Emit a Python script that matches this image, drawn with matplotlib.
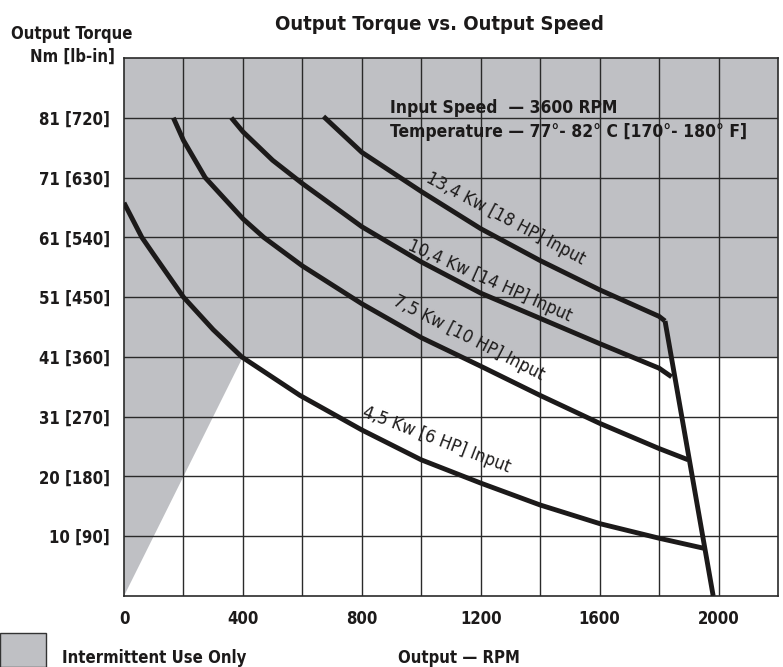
import matplotlib
matplotlib.use('Agg')
import matplotlib.pyplot as plt
from matplotlib import font_manager
from matplotlib.patches import Rectangle

# pick a narrow sans if one is installed
fonts = font_manager.fontManager.ttflist
names = {f.name for f in fonts}
if 'Liberation Sans Narrow' in names:
    plt.rcParams['font.family'] = ['Liberation Sans Narrow', 'DejaVu Sans']
elif any(f.name == 'DejaVu Sans' and f.stretch == 'condensed' for f in fonts):
    plt.rcParams['font.family'] = ['DejaVu Sans']
    plt.rcParams['font.stretch'] = 'condensed'
else:
    plt.rcParams['font.family'] = ['Liberation Sans', 'DejaVu Sans']

# torque in lb-in, speed in RPM
rpm_45 = [0, 60, 100, 200, 300, 396, 592, 800, 1000, 1200, 1400, 1600, 1800, 1949]
tq_45 = [592, 540, 514, 450, 401, 360, 302, 250, 205, 170, 137, 109, 87, 72]

rpm_75 = [166, 200, 273, 400, 470, 600, 800, 1000, 1200, 1400, 1600, 1800, 1898]
tq_75 = [720, 686, 630, 568, 540, 497, 440, 389, 346, 302, 260, 222, 205]

rpm_104 = [361, 400, 500, 600, 800, 1000, 1200, 1400, 1600, 1800, 1842]
tq_104 = [720, 699, 656, 621, 556, 503, 456, 418, 380, 343, 330]

rpm_134 = [671, 800, 1000, 1200, 1400, 1600, 1800, 1820]
tq_134 = [722, 668, 609, 553, 505, 461, 421, 414]

limit_rpm = [1820, 1982]
limit_tq = [414, 0]

# intermittent use zone
inter_level = 360
inter_rpm = [0, 400, 0]
inter_tq = [0, 360, 360]

tick_pos = [90, 180, 270, 360, 450, 540, 630, 720]
tick_lbl = ['10 [90]', '20 [180]', '31 [270]', '41 [360]', '51 [450]',
            '61 [540]', '71 [630]', '81 [720]']
x_ticks = [0, 400, 800, 1200, 1600, 2000]

curve_labels = ['4,5 Kw [6 HP] Input', '7,5 Kw [10 HP] Input',
                '10,4 Kw [14 HP] Input', '13,4 Kw [18 HP] Input']
label_rpm = [1050, 1160, 1232, 1283]
label_tq = [236, 388, 475, 568]
label_rot = [-21, -27, -24, -28]

gray = '#bfc0c4'
ink = '#1c1a1a'

fig = plt.figure(figsize=(7.83, 6.67), dpi=100)
ax = fig.add_axes([124 / 783, 1 - 596 / 667, 654 / 783, 538 / 667])

ax.axhspan(inter_level, 810, color=gray, lw=0, zorder=0)
ax.fill(inter_rpm, inter_tq, color=gray, lw=0, zorder=0)

ax.set_xlim(0, 2200)
ax.set_ylim(0, 810)
for gx in range(200, 2200, 200):
    ax.axvline(gx, color='#2a2a2a', lw=1.0, zorder=1)
for gy in range(90, 810, 90):
    ax.axhline(gy, color='#2a2a2a', lw=1.0, zorder=1)
ax.set_xticks(x_ticks)
ax.set_yticks(tick_pos)
ax.set_yticklabels(tick_lbl)
ax.tick_params(length=0, labelsize=12, colors=ink)
ax.tick_params(axis='y', pad=10)
ax.tick_params(axis='x', pad=10)
for t in ax.get_xticklabels() + ax.get_yticklabels():
    t.set_fontweight('bold')
for s in ax.spines.values():
    s.set_color('#2a2a2a')
    s.set_linewidth(1.2)

lw = 3.5
for r, t in [(rpm_45, tq_45), (rpm_75, tq_75), (rpm_104, tq_104), (rpm_134, tq_134)]:
    ax.plot(r, t, color=ink, lw=lw, solid_capstyle='butt', solid_joinstyle='round', zorder=3)
ax.plot(limit_rpm, limit_tq, color=ink, lw=lw, solid_capstyle='butt', zorder=3)

for lab, x, y, rot in zip(curve_labels, label_rpm, label_tq, label_rot):
    ax.text(x, y, lab, rotation=rot, rotation_mode='anchor', ha='center', va='center',
            fontsize=13, color=ink, zorder=4)

ax.text(895, 727, 'Input Speed  \u2014 3600 RPM', fontsize=12.5, fontweight='bold',
        color=ink, ha='left', va='baseline', zorder=4)
ax.text(895, 691, 'Temperature \u2014 77\u00b0- 82\u00b0 C [170\u00b0- 180\u00b0 F]', fontsize=12.5,
        fontweight='bold', color=ink, ha='left', va='baseline', zorder=4)

fig.text(439 / 783, 1 - 30 / 667, 'Output Torque vs. Output Speed', fontsize=14.5,
         fontweight='bold', color=ink, ha='center', va='baseline')
fig.text(72 / 783, 1 - 62 / 667, 'Output Torque\nNm [lb-in]', fontsize=12,
         fontweight='bold', color=ink, ha='center', va='baseline', multialignment='center',
         linespacing=1.35)

fig.patches.append(Rectangle((0, 0), 46 / 783, 34 / 667, transform=fig.transFigure,
                             facecolor=gray, edgecolor='#333333', lw=1.0))
fig.text(62 / 783, 1 - 663 / 667, 'Intermittent Use Only', fontsize=12, fontweight='bold',
         color=ink, ha='left', va='baseline')
fig.text(459 / 783, 1 - 663 / 667, 'Output \u2014 RPM', fontsize=12, fontweight='bold',
         color=ink, ha='center', va='baseline')

fig.savefig('out.png', dpi=100)
